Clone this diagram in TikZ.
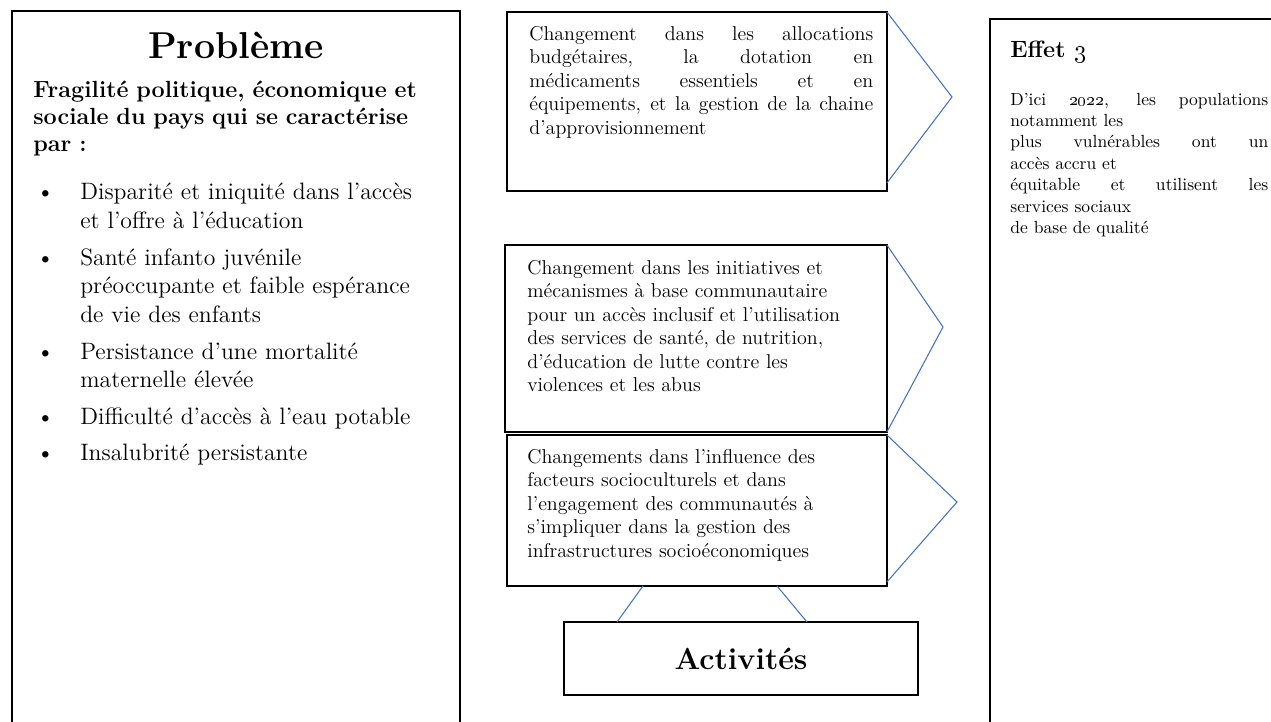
\documentclass[tikz,border=0pt]{standalone}
\usepackage{tikz}
\usetikzlibrary{positioning,calc}
\definecolor{linkblue}{RGB}{68,114,196}
\newcommand{\jline}[2]{\leavevmode\hbox to #1{\spaceskip=0.3em plus 1fil\relax #2}}
\newenvironment{bulletlist}{\begin{list}{\rlap{\textbullet}}{\setlength{\leftmargin}{0.94cm}\setlength{\labelwidth}{0pt}\setlength{\labelsep}{0.88cm}\setlength{\itemsep}{4pt}\setlength{\parsep}{0pt}\setlength{\topsep}{0pt}\setlength{\partopsep}{0pt}}}{\end{list}}

\begin{document}
\begin{tikzpicture}[x=0.02cm,y=-0.02cm]
  \tikzstyle{box}=[rectangle, draw=black, line width=0.9pt, inner sep=0pt, outer sep=0pt, anchor=north west]
  \tikzstyle{link}=[draw=linkblue, line width=0.6pt]
  \tikzstyle{txt}=[inner sep=0pt, anchor=base west, align=left]
  \useasboundingbox (0,0) rectangle (1271,721);
  \node[box, minimum width=8.96cm, minimum height=15cm] (prob) at (12,11) {};
  \node[box, minimum width=7.6cm, minimum height=3.58cm] (b1) at (507,12) {};
  \node[box, minimum width=7.64cm, minimum height=3.74cm] (b2) at (505,245) {};
  \node[box, minimum width=7.6cm, minimum height=3.02cm] (b3) at (507,435) {};
  \node[box, minimum width=7.08cm, minimum height=1.46cm, font=\fontsize{17.3}{20}\selectfont\bfseries] (act) at (564,622) {Activités};
  \node[box, minimum width=7cm, minimum height=15cm] (eff) at (990,19) {};
  \coordinate (t1) at (952,97);
  \coordinate (t2) at (943,327);
  \coordinate (t3) at (957,502);
  \node[txt, anchor=base, font=\fontsize{21.3}{24}\selectfont\bfseries] (ttl) at (236,58) {Problème};
  \node[txt, text width=8.6cm, font=\fontsize{13.3}{15.6}\selectfont\bfseries] (sub) at (33,97) {Fragilité politique, économique et\\ sociale du pays qui se caractérise\\ par :};
  \node[txt, text width=8.4cm, font=\fontsize{13.5}{16.5}\selectfont] (lst) at (33,171) {%
    \begin{bulletlist}
    \item Disparité et iniquité dans l’accès\\ et l’offre à l’éducation
    \item Santé infanto juvénile\\ préoccupante et faible espérance\\ de vie des enfants
    \item Persistance d’une mortalité\\ maternelle élevée
    \item Difficulté d’accès à l’eau potable
    \item Insalubrité persistante
    \end{bulletlist}};
  \node[txt, text width=6.88cm, font=\fontsize{11.4}{13.4}\selectfont] (c1) at (529,40) {\jline{6.88cm}{Changement dans les allocations}\\ \jline{6.88cm}{budgétaires, la dotation en}\\ \jline{6.88cm}{médicaments essentiels et en}\\ \jline{6.88cm}{équipements, et la gestion de la chaine}\\ d’approvisionnement};
  \node[txt, text width=7cm, font=\fontsize{11.4}{13.4}\selectfont] (c2) at (527,274) {Changement dans les initiatives et\\ mécanismes à base communautaire\\ pour un accès inclusif et l’utilisation\\ des services de santé, de nutrition,\\ d’éducation de lutte contre les\\ violences et les abus};
  \node[txt, text width=7cm, font=\fontsize{11.4}{13.4}\selectfont] (c3) at (527,463) {Changements dans l’influence des\\ facteurs socioculturels et dans\\ l’engagement des communautés à\\ s’impliquer dans la gestion des\\ infrastructures socioéconomiques};
  \node[txt, font=\fontsize{13.4}{16}\selectfont\bfseries] (efft) at (1010,57) {Effet \oldstylenums{3}};
  \node[txt, text width=5.16cm, font=\fontsize{10}{12.2}\selectfont] (effp) at (1010,105) {\jline{5.16cm}{D’ici \oldstylenums{2022}, les populations}\\ notamment les\\ \jline{5.16cm}{plus vulnérables ont un}\\ accès accru et\\ \jline{5.16cm}{équitable et utilisent les}\\ services sociaux\\ de base de qualité};
  \draw[link] (b1.north east) -- (t1) -- ($(b1.south east)+(0,-8)$);
  \draw[link] (b2.north east) -- (t2) -- (b2.south east);
  \draw[link] (b3.north east) -- (t3) -- ($(b3.south east)+(0,-4)$);
  \draw[link] ($(b3.south west)+(136,0)$) -- ($(act.north west)+(53,0)$);
  \draw[link] ($(b3.south west)+(270,0)$) -- ($(act.north west)+(243,0)$);
\end{tikzpicture}
\end{document}
